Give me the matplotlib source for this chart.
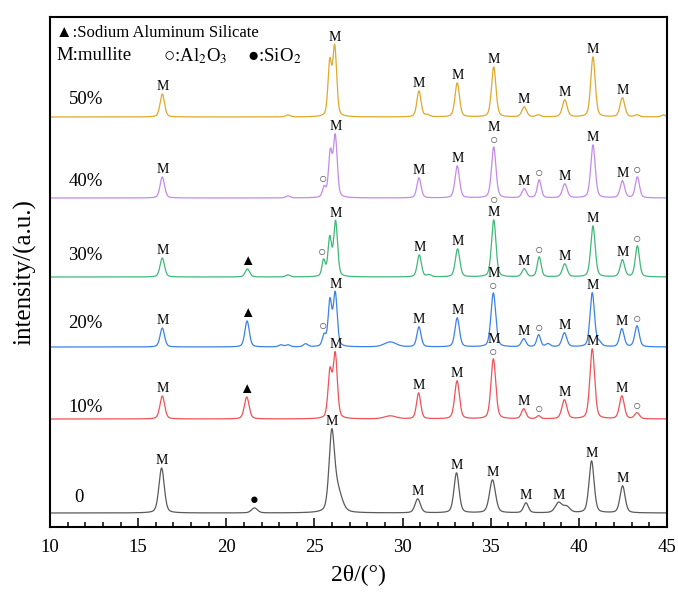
import numpy as np
import matplotlib
matplotlib.use("Agg")
import matplotlib.pyplot as plt
from matplotlib.ticker import MultipleLocator

plt.rcParams['font.family'] = ['Liberation Serif', 'DejaVu Serif']
plt.rcParams['mathtext.fontset'] = 'stix'

# sample names, colours and baseline offsets (stacked patterns)
samples = ['0', '10%', '20%', '30%', '40%', '50%']
colors = ['#5a5a5a', '#ef5258', '#3b82e6', '#40b87a', '#c48ae8', '#dfa92a']
baselines = [14, 108, 180, 250, 329, 410]
label_dy = [15, 11, 23, 22, 16, 18]

# peak lists: centre (deg), height, fwhm (deg)
pk_0 = dict(c=[16.33, 21.6, 25.98, 26.3, 30.86, 33.06, 35.1, 37.0, 38.85, 39.3, 40.72, 42.48],
            h=[45, 5, 74, 22, 14, 40, 33, 10, 10, 6, 52, 27],
            w=[0.36, 0.4, 0.36, 0.6, 0.36, 0.34, 0.4, 0.32, 0.45, 0.45, 0.34, 0.34])
pk_10 = dict(c=[16.37, 21.16, 25.88, 26.18, 29.3, 30.91, 33.09, 35.15, 36.87, 37.72, 39.18, 40.76, 42.44, 43.3],
             h=[23, 22, 46, 64, 3, 26, 38, 60, 10, 3, 19, 70, 23, 6],
             w=[0.32, 0.32, 0.26, 0.28, 0.8, 0.28, 0.32, 0.32, 0.3, 0.26, 0.34, 0.32, 0.32, 0.32])
pk_20 = dict(c=[16.37, 21.18, 23.1, 23.5, 24.5, 25.55, 25.88, 26.18, 29.3, 30.93, 33.1, 35.15,
                36.87, 37.72, 38.25, 39.18, 40.76, 41.15, 42.44, 43.3],
             h=[19, 26, 2, 2, 3, 11, 45, 53, 5, 20, 29, 54, 8, 12, 3, 14, 54, 4, 18, 21],
             w=[0.3, 0.3, 0.3, 0.3, 0.3, 0.24, 0.24, 0.26, 0.8, 0.28, 0.3, 0.32, 0.3, 0.26, 0.3,
                0.32, 0.3, 0.3, 0.3, 0.3])
pk_30 = dict(c=[16.37, 21.2, 23.5, 25.52, 25.87, 26.2, 30.95, 31.5, 33.12, 35.17, 36.9, 37.75,
                39.2, 40.8, 42.47, 43.32],
             h=[19, 8, 2, 16, 38, 55, 22, 2, 28, 57, 8, 20, 13, 51, 17, 31],
             w=[0.3, 0.3, 0.3, 0.22, 0.24, 0.26, 0.28, 0.3, 0.3, 0.3, 0.3, 0.26, 0.32, 0.3, 0.3, 0.28])
pk_40 = dict(c=[16.37, 23.5, 25.55, 25.9, 26.18, 30.93, 33.1, 35.17, 36.9, 37.75, 39.2, 40.8, 42.47, 43.32],
             h=[21, 2, 10, 44, 61, 20, 32, 51, 9, 18, 14, 53, 17, 21],
             w=[0.3, 0.3, 0.22, 0.24, 0.26, 0.28, 0.3, 0.3, 0.3, 0.26, 0.32, 0.3, 0.3, 0.28])
pk_50 = dict(c=[16.37, 23.5, 25.87, 26.15, 30.93, 31.4, 33.1, 35.17, 36.9, 37.7, 39.2, 40.8, 42.47, 43.3, 44.8],
             h=[23, 2, 53, 69, 26, 2, 34, 50, 10, 2, 17, 60, 19, 2, 2],
             w=[0.3, 0.3, 0.24, 0.26, 0.28, 0.3, 0.3, 0.3, 0.32, 0.3, 0.32, 0.3, 0.32, 0.3, 0.3])
peaks = [pk_0, pk_10, pk_20, pk_30, pk_40, pk_50]

# phase marks above each pattern: M = mullite, o = Al2O3, ^ = sodium aluminum silicate, . = SiO2
# (marks stacked bottom-to-top)
marks_0 = [(16.33, 'M'), (21.6, '.'), (25.98, 'M'), (30.86, 'M'), (33.06, 'M'), (35.1, 'M'),
           (37.0, 'M'), (38.85, 'M'), (40.72, 'M'), (42.48, 'M')]
marks_10 = [(16.37, 'M'), (21.16, '^'), (26.18, 'M'), (30.91, 'M'), (33.09, 'M'), (35.15, 'oM'),
            (36.87, 'M'), (37.72, 'o'), (39.18, 'M'), (40.76, 'M'), (42.44, 'M'), (43.3, 'o')]
marks_20 = [(16.37, 'M'), (21.18, '^'), (25.5, 'o'), (26.18, 'M'), (30.93, 'M'), (33.1, 'M'),
            (35.15, 'oM'), (36.87, 'M'), (37.72, 'o'), (39.18, 'M'), (40.76, 'M'), (42.44, 'M'), (43.3, 'o')]
marks_30 = [(16.37, 'M'), (21.2, '^'), (25.45, 'o'), (26.2, 'M'), (30.95, 'M'), (33.12, 'M'),
            (35.17, 'Mo'), (36.9, 'M'), (37.75, 'o'), (39.2, 'M'), (40.8, 'M'), (42.47, 'M'), (43.32, 'o')]
marks_40 = [(16.37, 'M'), (25.5, 'o'), (26.18, 'M'), (30.93, 'M'), (33.1, 'M'), (35.17, 'oM'),
            (36.9, 'M'), (37.75, 'o'), (39.2, 'M'), (40.8, 'M'), (42.47, 'M'), (43.32, 'o')]
marks_50 = [(16.37, 'M'), (26.15, 'M'), (30.93, 'M'), (33.1, 'M'), (35.17, 'M'), (36.9, 'M'),
            (39.2, 'M'), (40.8, 'M'), (42.47, 'M')]
marks = [marks_0, marks_10, marks_20, marks_30, marks_40, marks_50]

mark_style = {
    'M': dict(s='M', size=10, color='black', step=13.5),
    'o': dict(s='\u25cb', size=10, color='#555555', step=12.5),
    '^': dict(s='\u25b2', size=10.5, color='black', step=13.5),
    '.': dict(s='\u25cf', size=10.5, color='black', step=13.5),
}


def profile(x, c, h, w, eta=0.35):
    y = np.zeros_like(x)
    for ci, hi, wi in zip(c, h, w):
        d = (x - ci) / (wi / 2)
        y += hi * (eta / (1 + d ** 2) + (1 - eta) * np.exp(-np.log(2) * d ** 2))
    return y


x = np.linspace(10, 45, 3501)

fig = plt.figure(figsize=(6.78, 5.92), dpi=100)
ax = fig.add_axes([50 / 678, 65 / 592, 617 / 678, 510 / 592])

for name, col, base, dy, pk, mk in zip(samples, colors, baselines, label_dy, peaks, marks):
    y = base + profile(x, pk['c'], pk['h'], pk['w'])
    ax.plot(x, y, color=col, lw=0.9)
    ax.text(11.05 if name != '0' else 11.35, base + dy, name, fontsize=13.5, va='center', ha='left')
    for xm, seq in mk:
        sel = np.abs(x - xm) < 0.12
        ym = y[sel].max() + 0.5
        for ch in seq:
            st = mark_style[ch]
            ax.text(xm, ym, st['s'], fontsize=st['size'], color=st['color'],
                    ha='center', va='bottom')
            ym += st['step']

# legend-like key in the top-left corner
ax.text(10.35, 494, '\u25b2:Sodium Aluminum Silicate', fontsize=12, va='center', ha='left')
ax.text(10.35, 471, 'M:mullite', fontsize=13.5, va='center', ha='left')
ax.text(16.4, 471, '\u25cb:Al$_2$O$_3$', fontsize=13.5, va='center', ha='left')
ax.text(21.2, 471, '\u25cf:SiO$_2$', fontsize=13.5, va='center', ha='left')

ax.set_xlim(10, 45)
ax.set_ylim(0, 510)
ax.xaxis.set_major_locator(MultipleLocator(5))
ax.xaxis.set_minor_locator(MultipleLocator(1))
ax.tick_params(axis='x', which='major', direction='in', length=6.5, width=1.1, labelsize=13.5, pad=9)
ax.tick_params(axis='x', which='minor', direction='in', length=3.5, width=1.1)
ax.set_yticks([])
for sp in ax.spines.values():
    sp.set_linewidth(1.5)

ax.set_xlabel('2\u03b8/(\u00b0)', fontsize=17, labelpad=6)
ax.set_ylabel('intensity/(a.u.)', fontsize=18, labelpad=10)

fig.savefig('out.png', dpi=100)
